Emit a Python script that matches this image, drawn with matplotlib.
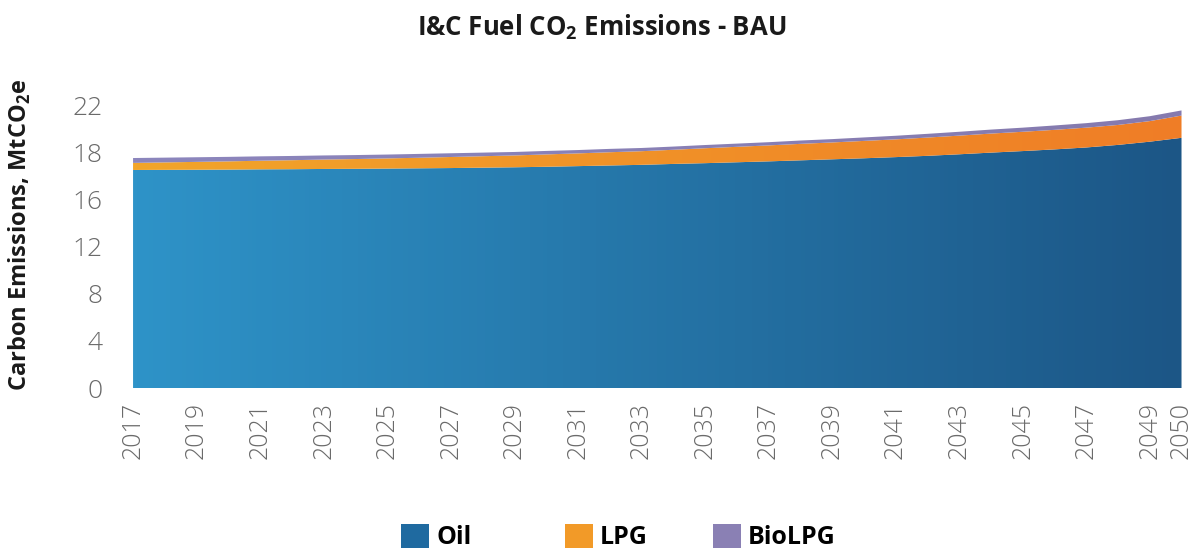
import numpy as np
import matplotlib
matplotlib.use("Agg")
import matplotlib.pyplot as plt
from matplotlib.colors import LinearSegmentedColormap
from matplotlib.patches import Patch

plt.rcParams["font.family"] = ["Open Sans", "DejaVu Sans"]
plt.rcParams["mathtext.fontset"] = "custom"
plt.rcParams["mathtext.rm"] = "Open Sans"
plt.rcParams["mathtext.bf"] = "Open Sans:bold"

years = list(range(2017, 2051))
oil = [16.95, 16.96, 16.97, 16.98, 17.0, 17.01, 17.03, 17.04, 17.06, 17.08,
       17.1, 17.13, 17.16, 17.2, 17.25, 17.3, 17.35, 17.42, 17.48, 17.55,
       17.62, 17.7, 17.78, 17.86, 17.95, 18.05, 18.17, 18.3, 18.42, 18.55,
       18.7, 18.9, 19.15, 19.45]
lpg = [0.55, 0.58, 0.61, 0.64, 0.67, 0.70, 0.73, 0.76, 0.79, 0.82,
       0.86, 0.89, 0.92, 0.96, 0.99, 1.03, 1.06, 1.10, 1.16, 1.20,
       1.24, 1.28, 1.31, 1.35, 1.38, 1.42, 1.45, 1.48, 1.50, 1.52,
       1.54, 1.55, 1.60, 1.73]
biolpg = [0.38, 0.37, 0.36, 0.35, 0.34, 0.33, 0.32, 0.31, 0.30, 0.30,
          0.29, 0.28, 0.27, 0.27, 0.26, 0.26, 0.25, 0.25, 0.25, 0.25,
          0.25, 0.26, 0.26, 0.27, 0.28, 0.29, 0.30, 0.31, 0.32, 0.34,
          0.35, 0.37, 0.38, 0.40]
series_names = ["Oil", "LPG", "BioLPG"]
ytick_labels = ["0", "4", "8", "12", "16", "18", "22"]
xtick_years = list(range(2017, 2050, 2)) + [2050]

# left -> right gradient colours per series
grads = [("#2e93c8", "#1c5686"), ("#f2a52a", "#ef7d26"), ("#8c86bd", "#857aae")]
legend_colors = ["#1f6aa0", "#f29a28", "#8a80b4"]
legend_x = [401, 565, 713]  # left edge of each legend swatch, px

fig = plt.figure(figsize=(12.03, 5.51), dpi=100)
ax = fig.add_axes([0.1106, 0.2958, 0.8755, 0.5136])

x = np.array(years)
base = np.zeros(len(years))
for vals, (c0, c1), name in zip([oil, lpg, biolpg], grads, series_names):
    top = base + np.array(vals)
    poly = ax.fill_between(x, base, top, color=c0, lw=0)
    poly.set_facecolor("none")
    cmap = LinearSegmentedColormap.from_list(name, [c0, c1])
    im = ax.imshow(np.linspace(0, 1, 256).reshape(1, -1), cmap=cmap, aspect="auto",
                   extent=[x[0], x[-1], 0, 23], origin="lower", zorder=1)
    im.set_clip_path(poly.get_paths()[0], transform=ax.transData)
    base = top

ax.set_xlim(2017, 2050.15)
ax.set_ylim(0, 22)
ax.set_yticks(np.linspace(0, 22, 7))
ax.set_yticklabels(ytick_labels, fontweight="light")
ax.set_xticks(xtick_years)
ax.set_xticklabels([str(y) for y in xtick_years], rotation=90, fontweight="light")
ax.tick_params(axis="both", length=0, colors="#6a6a6a", labelsize=18)
ax.tick_params(axis="y", labelsize=19, pad=22)
ax.tick_params(axis="x", pad=10)
for s in ax.spines.values():
    s.set_visible(False)

ax.set_ylabel(r"Carbon Emissions, MtCO$_\mathbf{2}$e", fontsize=17,
              fontweight="bold", color="#1a1a1a")
ax.yaxis.set_label_coords(-0.095, 0.54)

fig.text(0.5, 0.95, r"I&C Fuel CO$_\mathbf{2}$ Emissions - BAU", ha="center",
         va="center", fontsize=18.5, fontweight="bold", color="#1a1a1a")

for c, name, lx in zip(legend_colors, series_names, legend_x):
    leg = fig.legend([Patch(facecolor=c, edgecolor="none")], [name],
                     loc="center left", bbox_to_anchor=(lx / 1203, 0.025),
                     frameon=False, borderpad=0, borderaxespad=0,
                     handlelength=1.1, handleheight=1.1, handletextpad=0.3,
                     prop={"size": 18, "weight": "bold"})

fig.savefig("out.png", dpi=100)
